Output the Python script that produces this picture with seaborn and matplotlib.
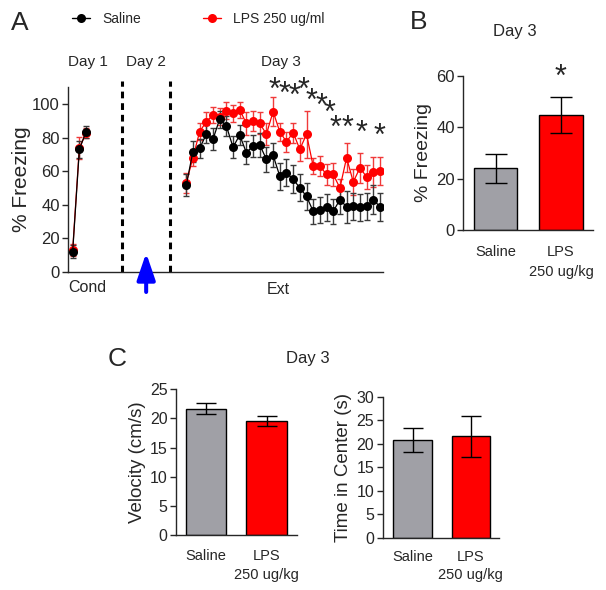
import matplotlib
matplotlib.use("Agg")
import matplotlib.pyplot as plt
from matplotlib.lines import Line2D
import seaborn as sns
import pandas as pd
import numpy as np

# ---------------- data ----------------
groups = ["Saline", "LPS 250 ug/ml"]
cond_trials = [1, 2, 3]
ext_trials = list(range(1, 31))

saline_cond = [12, 73, 83.5]
saline_cond_err = [4, 5, 3.5]
lps_cond = [13, 74, 82.5]
lps_cond_err = [3.5, 6.5, 3]

saline_ext = [51.5, 71.7, 73.5, 82, 79, 91, 87, 74.3, 81.5, 71, 75, 75.7, 67, 69.5, 57,
              59, 55.2, 50, 45, 36, 36.8, 38.3, 36, 43, 38.7, 39, 38.5, 39, 43, 38.7]
saline_ext_err = [6.5, 6, 5.5, 5.5, 6.5, 5, 6, 6.5, 6, 7, 6.5, 7, 7.5, 7, 8,
                  8, 8.5, 8, 8, 7.5, 7.5, 8, 7.5, 8.5, 9.5, 8, 8, 8, 8.5, 8.5]
lps_ext = [53, 68, 83.5, 89.5, 93.5, 92.5, 96, 94.5, 96.5, 88.5, 90, 88.5, 82, 95.5, 83.5,
           77.5, 83, 73, 82, 63, 63, 58, 58, 50, 68, 53.5, 62, 56.5, 59.5, 60]
lps_ext_err = [6, 5, 5, 6, 5, 5, 5, 5, 5, 7, 6, 6.5, 6.5, 8.5, 5.5,
               6, 6, 7, 14, 5, 6, 6, 7, 5.5, 8.5, 7.5, 9, 7, 9, 8.5]

# significance stars (Ext trial position, height of star centre)
star_trials = [14.2, 15.7, 17.2, 18.5, 19.8, 21.2, 22.5, 23.4, 25.2, 27.2, 30.0]
star_y = [113.5, 111, 110, 113.5, 107, 104, 99.6, 90.6, 90.6, 87.6, 85.7]

bar_groups = ["Saline", "LPS\n250 ug/kg"]
freezing_day3 = [24.0, 44.7]
freezing_day3_err = [5.7, 7.1]
velocity = [21.7, 19.55]
velocity_err = [1.0, 0.9]
center_time = [20.8, 21.6]
center_time_err = [2.6, 4.4]

# ---------------- style ----------------
sns.set_theme(style="ticks")
plt.rcParams["font.family"] = ["Liberation Sans", "DejaVu Sans"]
plt.rcParams["axes.linewidth"] = 1.0

BLACK = "#000000"
RED = "#FF0000"
GREY = "#A0A0A6"
STAR_FS = 22

W, H = 606, 590
fig = plt.figure(figsize=(W / 100, H / 100), dpi=100)


def fbox(l, t, r, b):
    return [l / W, 1 - b / H, (r - l) / W, (b - t) / H]


def star(ax, x, y, coords="data"):
    # place the visual centre of an asterisk glyph at (x, y)
    ax.annotate("*", xy=(x, y), xycoords=coords, xytext=(0, -0.56 * STAR_FS),
                textcoords="offset points", ha="center", va="baseline",
                fontsize=STAR_FS, annotation_clip=False)


# ---------------- Panel A ----------------
axA = fig.add_axes(fbox(68, 87.3, 383, 271.7))
EXT_OFFSET = 17

rows = []
for g, cv, ev in [(groups[0], saline_cond, saline_ext), (groups[1], lps_cond, lps_ext)]:
    for t, v in zip(cond_trials, cv):
        rows.append(dict(group=g, phase="Cond", x=t, freezing=v))
    for t, v in zip(ext_trials, ev):
        rows.append(dict(group=g, phase="Ext", x=t + EXT_OFFSET, freezing=v))
dfA = pd.DataFrame(rows)

series = [
    (groups[1], RED, "#F03A3A", lps_cond_err, lps_ext_err),
    (groups[0], BLACK, "#3A3A3A", saline_cond_err, saline_ext_err),
]
for g, col, ecol, cerr, eerr in series:
    for ph, err in [("Cond", cerr), ("Ext", eerr)]:
        d = dfA[(dfA.group == g) & (dfA.phase == ph)]
        axA.errorbar(d.x, d.freezing, yerr=err, fmt="none", ecolor=ecol,
                     elinewidth=1.0, capsize=2.4, capthick=1.0, zorder=2)
        sns.lineplot(data=d, x="x", y="freezing", ax=axA, color=col, lw=0.9,
                     marker="o", markersize=6.5, markeredgewidth=0,
                     sort=False, legend=False, zorder=3)

axA.set_xlim(0.3, 47.45)
axA.set_ylim(0, 110)
axA.set_yticks([0, 20, 40, 60, 80, 100])
axA.set_xticks([])
axA.set_xlabel("")
axA.set_ylabel("% Freezing", fontsize=15, labelpad=1)
axA.tick_params(axis="y", labelsize=12, length=4, width=1, pad=2)
sns.despine(ax=axA)

for xv in [8.4, 15.6]:
    axA.plot([xv, xv], [0, 113.5], ls=(0, (2.2, 1.6)), color="black", lw=2.2,
             clip_on=False, zorder=1)

axA.annotate("", xy=(12, 11.2), xytext=(12, -12.1), xycoords="data",
             arrowprops=dict(arrowstyle="-|>,head_length=1.35,head_width=0.46",
                             color="#0000FF", lw=2.9, shrinkA=0, shrinkB=0),
             annotation_clip=False)

for txt, xv in [("Day 1", 3.26), ("Day 2", 12.0), ("Day 3", 32.2)]:
    axA.text(xv, 125, txt, ha="center", va="center", fontsize=11, clip_on=False)
axA.text(3.2, -9.5, "Cond", ha="center", va="center", fontsize=11.5, clip_on=False)
axA.text(31.8, -10.5, "Ext", ha="center", va="center", fontsize=11.5, clip_on=False)

for sx, sy in zip(star_trials, star_y):
    star(axA, sx + EXT_OFFSET, sy)

handles = [
    Line2D([], [], color=BLACK, marker="o", markersize=6.5, lw=1, markeredgewidth=0),
    Line2D([], [], color=RED, marker="o", markersize=6.5, lw=1, markeredgewidth=0),
]
fig.legend(handles, groups, loc="center left", bbox_to_anchor=(71.7 / W, 1 - 19 / H),
           ncol=2, frameon=False, fontsize=10, handlelength=1.35, handletextpad=0.83,
           columnspacing=4.46, borderpad=0, borderaxespad=0)


# ---------------- bar helper ----------------
def bar_panel(ax, vals, errs, capsize, width, pad, linespacing):
    d = pd.DataFrame(dict(group=bar_groups, value=vals))
    sns.barplot(data=d, x="group", y="value", hue="group",
                palette=[GREY, RED], saturation=1, edgecolor="black", linewidth=1.0,
                width=width, errorbar=None, legend=False, ax=ax, zorder=2)
    ax.errorbar(np.arange(len(vals)), vals, yerr=errs, fmt="none", ecolor="black",
                elinewidth=1.0, capsize=capsize, capthick=1.0, zorder=3)
    ax.set_xlabel("")
    ax.tick_params(axis="x", length=0, labelsize=10.5, pad=pad)
    for lab in ax.get_xticklabels():
        lab.set_linespacing(linespacing)
        lab.set_va("top")
    sns.despine(ax=ax)


# ---------------- Panel B ----------------
axB = fig.add_axes(fbox(463.3, 76, 593, 230))
bar_panel(axB, freezing_day3, freezing_day3_err, 7.7, 0.663, 10.5, 1.55)
axB.set_xlim(-0.496, 1.49)
axB.set_ylim(0, 60)
axB.set_yticks([0, 20, 40, 60])
axB.set_ylabel("% Freezing", fontsize=14, labelpad=3)
axB.tick_params(axis="y", labelsize=12, length=4, width=1, pad=2)
fig.text(515 / W, 1 - 31.7 / H, "Day 3", ha="center", va="center", fontsize=12)
star(axB, 1, 63)

# ---------------- Panel C ----------------
axC1 = fig.add_axes(fbox(176, 389.3, 297.3, 535))
bar_panel(axC1, velocity, velocity_err, 7.2, 0.67, 10, 1.42)
axC1.set_xlim(-0.5, 1.507)
axC1.set_ylim(0, 25)
axC1.set_yticks([0, 5, 10, 15, 20, 25])
axC1.set_ylabel("Velocity (cm/s)", fontsize=13.5, labelpad=3)
axC1.tick_params(axis="y", labelsize=11.5, length=4, width=1, pad=2)

axC2 = fig.add_axes(fbox(382.7, 396.7, 499.3, 537.7))
bar_panel(axC2, center_time, center_time_err, 7.2, 0.666, 8.5, 1.42)
axC2.set_xlim(-0.518, 1.49)
axC2.set_ylim(0, 30)
axC2.set_yticks([0, 5, 10, 15, 20, 25, 30])
axC2.set_ylabel("Time in Center (s)", fontsize=13.5, labelpad=3)
axC2.tick_params(axis="y", labelsize=11.5, length=4, width=1, pad=2)

fig.text(307.5 / W, 1 - 358.3 / H, "Day 3", ha="center", va="center", fontsize=12)

# panel letters
for letter, px, py in [("A", 20, 22.5), ("B", 419, 22), ("C", 117, 359)]:
    fig.text(px / W, 1 - py / H, letter, ha="center", va="center", fontsize=19)

fig.savefig("out.png", dpi=100)
